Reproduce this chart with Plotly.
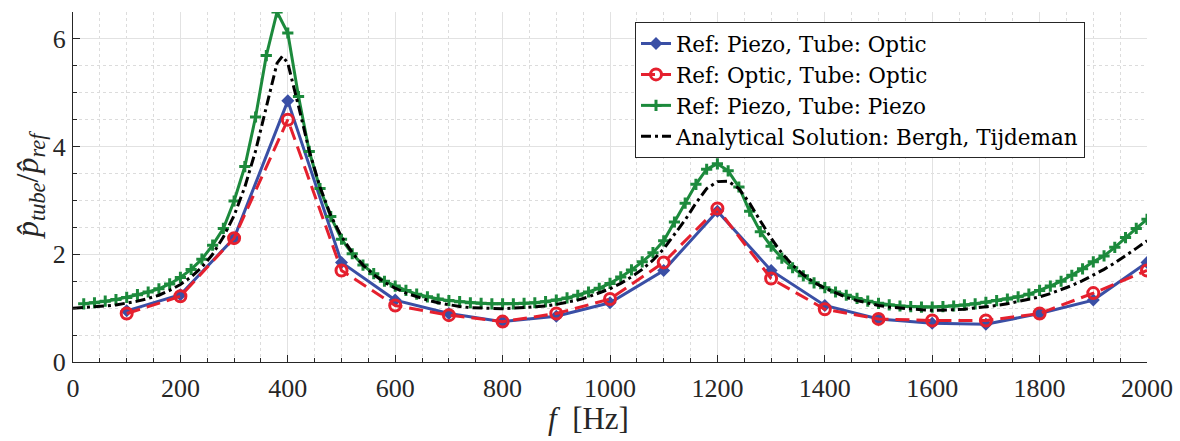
import plotly.graph_objects as go

# ---- data ----
f_meas = [100, 200, 300, 400, 500, 600, 700, 800, 900, 1000,
          1100, 1200, 1300, 1400, 1500, 1600, 1700, 1800, 1900, 2000]
piezo_optic = [0.95, 1.25, 2.30, 4.85, 1.85, 1.15, 0.90, 0.75, 0.85, 1.10,
               1.70, 2.80, 1.70, 1.05, 0.80, 0.72, 0.70, 0.90, 1.15, 1.85]
optic_optic = [0.90, 1.22, 2.30, 4.50, 1.70, 1.05, 0.87, 0.75, 0.90, 1.17,
               1.85, 2.85, 1.55, 0.98, 0.80, 0.77, 0.77, 0.90, 1.28, 1.70]

f_piezo = [20, 40, 60, 80, 100, 120, 140, 160, 180, 200,
           220, 240, 260, 280, 300, 320, 340, 360, 380, 400,
           420, 440, 460, 480, 500, 520, 540, 560, 580, 600,
           620, 640, 660, 680, 700, 720, 740, 760, 780, 800,
           820, 840, 860, 880, 900, 920, 940, 960, 980, 1000,
           1020, 1040, 1060, 1080, 1100, 1120, 1140, 1160, 1180, 1200,
           1220, 1240, 1260, 1280, 1300, 1320, 1340, 1360, 1380, 1400,
           1420, 1440, 1460, 1480, 1500, 1520, 1540, 1560, 1580, 1600,
           1620, 1640, 1660, 1680, 1700, 1720, 1740, 1760, 1780, 1800,
           1820, 1840, 1860, 1880, 1900, 1920, 1940, 1960, 1980, 2000]
piezo_piezo = [1.08, 1.10, 1.13, 1.16, 1.20, 1.25, 1.30, 1.36, 1.45, 1.57,
               1.72, 1.91, 2.17, 2.48, 2.99, 3.63, 4.55, 5.69, 6.50, 6.11,
               4.93, 3.91, 3.22, 2.70, 2.28, 2.01, 1.80, 1.64, 1.50, 1.41,
               1.33, 1.26, 1.21, 1.17, 1.14, 1.12, 1.10, 1.09, 1.08, 1.08,
               1.08, 1.09, 1.10, 1.12, 1.15, 1.19, 1.24, 1.30, 1.37, 1.46,
               1.58, 1.71, 1.86, 2.03, 2.25, 2.60, 2.95, 3.30, 3.58, 3.68,
               3.55, 3.25, 2.80, 2.42, 2.15, 1.93, 1.75, 1.60, 1.47, 1.38,
               1.30, 1.24, 1.18, 1.13, 1.09, 1.06, 1.04, 1.03, 1.02, 1.02,
               1.03, 1.04, 1.06, 1.08, 1.11, 1.14, 1.17, 1.21, 1.26, 1.33,
               1.41, 1.50, 1.61, 1.73, 1.86, 1.97, 2.13, 2.31, 2.48, 2.65]

f_anal = [0, 20, 40, 60, 80, 100, 120, 140, 160, 180, 200,
          220, 240, 260, 280, 300, 320, 340, 360, 380, 390, 400,
          420, 440, 460, 480, 500, 520, 540, 560, 580, 600,
          620, 640, 660, 680, 700, 720, 740, 760, 780, 800,
          820, 840, 860, 880, 900, 920, 940, 960, 980, 1000,
          1020, 1040, 1060, 1080, 1100, 1120, 1140, 1160, 1180, 1200,
          1220, 1240, 1260, 1280, 1300, 1320, 1340, 1360, 1380, 1400,
          1420, 1440, 1460, 1480, 1500, 1520, 1540, 1560, 1580, 1600,
          1620, 1640, 1660, 1680, 1700, 1720, 1740, 1760, 1780, 1800,
          1820, 1840, 1860, 1880, 1900, 1920, 1940, 1960, 1980, 2000]
analytical = [1.00, 1.01, 1.02, 1.04, 1.06, 1.09, 1.13, 1.18, 1.24, 1.33, 1.44,
              1.58, 1.76, 2.00, 2.32, 2.72, 3.25, 3.92, 4.75, 5.55, 5.68, 5.55,
              4.75, 3.92, 3.25, 2.72, 2.33, 2.03, 1.80, 1.62, 1.48, 1.37,
              1.28, 1.21, 1.15, 1.10, 1.06, 1.03, 1.01, 1.00, 0.99, 0.99,
              1.00, 1.01, 1.02, 1.04, 1.07, 1.11, 1.15, 1.21, 1.28, 1.36,
              1.46, 1.58, 1.72, 1.89, 2.10, 2.36, 2.64, 2.95, 3.22, 3.35,
              3.36, 3.22, 2.95, 2.62, 2.30, 2.02, 1.80, 1.62, 1.48, 1.37,
              1.28, 1.20, 1.14, 1.09, 1.05, 1.02, 1.00, 0.98, 0.97, 0.96,
              0.96, 0.97, 0.98, 1.00, 1.02, 1.05, 1.08, 1.12, 1.16, 1.21,
              1.27, 1.34, 1.42, 1.51, 1.61, 1.72, 1.84, 1.97, 2.11, 2.25]

x_ticks = [0, 200, 400, 600, 800, 1000, 1200, 1400, 1600, 1800, 2000]
y_ticks = [0, 2, 4, 6]

BLUE = "#3a4fa5"
RED = "#e5202e"
GREEN = "#1c8a3c"
FONT = "Liberation Serif"
LEGFONT = "DejaVu Serif"

fig = go.Figure()
fig.add_trace(go.Scatter(
    x=f_meas, y=piezo_optic, mode="lines+markers",
    name="Ref: Piezo, Tube: Optic",
    line=dict(color=BLUE, width=3),
    marker=dict(symbol="diamond", size=10, color=BLUE)))
fig.add_trace(go.Scatter(
    x=f_meas, y=optic_optic, mode="lines+markers",
    name="Ref: Optic, Tube: Optic",
    line=dict(color=RED, width=3, dash="14px,7px"),
    marker=dict(symbol="circle-open", size=11, color=RED, line=dict(width=3, color=RED))))
fig.add_trace(go.Scatter(
    x=f_piezo, y=piezo_piezo, mode="lines+markers",
    name="Ref: Piezo, Tube: Piezo",
    line=dict(color=GREEN, width=3),
    marker=dict(symbol="cross-thin", size=8, color=GREEN, line=dict(width=3, color=GREEN))))
fig.add_trace(go.Scatter(
    x=f_anal, y=analytical, mode="lines",
    name="Analytical Solution: Bergh, Tijdeman",
    line=dict(color="black", width=3, dash="10px,4px,3px,4px")))

axis_common = dict(
    showline=True, linecolor="#262626", linewidth=1, mirror=False,
    ticks="inside", ticklen=7, tickcolor="#262626",
    showgrid=True, gridcolor="#e2e2e2", gridwidth=1,
    zeroline=False, automargin=False,
    tickfont=dict(family=FONT, size=26, color="#262626"),
)

fig.update_xaxes(
    range=[0, 2000], tickvals=x_ticks, ticklabelstandoff=3,
    minor=dict(dtick=50, ticks="inside", ticklen=4, tickcolor="#262626",
               showgrid=True, gridcolor="#dcdcdc", griddash="dot"),
    **axis_common)
fig.update_yaxes(
    range=[0, 6.5], tickvals=y_ticks, ticklabelstandoff=1,
    minor=dict(dtick=0.5, ticks="inside", ticklen=4, tickcolor="#262626",
               showgrid=True, gridcolor="#dcdcdc", griddash="dot"),
    **axis_common)

fig.add_annotation(
    text="<i>f</i>  [Hz]", xref="paper", yref="paper",
    x=(588 - 73) / 1074, y=-(418 - 362) / 350, xanchor="center", yanchor="middle",
    showarrow=False, font=dict(family=FONT, size=31, color="#262626"))
fig.add_annotation(
    text="<i>p̂</i><sub><i>tube</i></sub>/<i>p̂</i><sub><i>ref</i></sub>",
    xref="paper", yref="paper", textangle=-90,
    x=-(73 - 29) / 1074, y=(362 - 185) / 350, xanchor="center", yanchor="middle",
    showarrow=False, font=dict(family=FONT, size=32, color="#262626"))

fig.update_layout(
    width=1180, height=441,
    margin=dict(l=73, r=33, t=12, b=79),
    paper_bgcolor="white", plot_bgcolor="white",
    showlegend=True,
    legend=dict(x=(635 - 73) / 1074, y=(362 - 22) / 350, xanchor="left", yanchor="top",
                bgcolor="white", bordercolor="#262626", borderwidth=1,
                font=dict(family=LEGFONT, size=21.5, color="black"),
                itemwidth=30, tracegroupgap=0),
)

fig.write_html("out.html", config={"displayModeBar": False},
               post_script="document.body.style.margin='0';")
